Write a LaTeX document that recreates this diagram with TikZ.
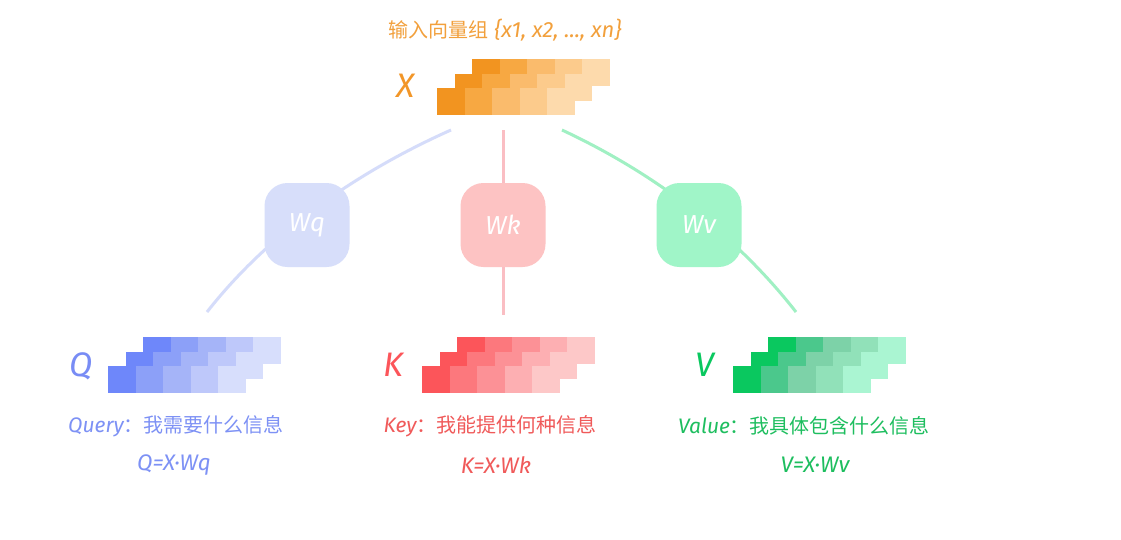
\documentclass[tikz,border=0pt]{standalone}
\usepackage{fontspec}
\setmainfont{Fira Sans}
\newfontfamily\cjk{Noto Sans CJK SC}
\usetikzlibrary{backgrounds}
\definecolor{o1}{RGB}{242,148,32}
\definecolor{o2}{RGB}{247,168,66}
\definecolor{o3}{RGB}{250,187,108}
\definecolor{o4}{RGB}{252,203,140}
\definecolor{o5}{RGB}{253,218,172}
\definecolor{b1}{RGB}{110,135,250}
\definecolor{b2}{RGB}{140,160,248}
\definecolor{b3}{RGB}{165,180,248}
\definecolor{b4}{RGB}{190,200,250}
\definecolor{b5}{RGB}{215,222,252}
\definecolor{r1}{RGB}{252,85,90}
\definecolor{r2}{RGB}{252,120,125}
\definecolor{r3}{RGB}{252,145,150}
\definecolor{r4}{RGB}{253,175,178}
\definecolor{r5}{RGB}{253,200,200}
\definecolor{g1}{RGB}{10,200,95}
\definecolor{g2}{RGB}{75,200,140}
\definecolor{g3}{RGB}{125,210,168}
\definecolor{g4}{RGB}{145,225,185}
\definecolor{g5}{RGB}{170,245,210}
\definecolor{otext}{RGB}{242,160,60}
\definecolor{oletter}{RGB}{242,150,40}
\definecolor{btext}{RGB}{125,145,245}
\definecolor{bletter}{RGB}{120,140,245}
\definecolor{rtext}{RGB}{240,90,90}
\definecolor{gtext}{RGB}{30,190,95}
\definecolor{qline}{RGB}{213,220,250}
\definecolor{kline}{RGB}{250,190,195}
\definecolor{vline}{RGB}{160,240,195}
\definecolor{qfill}{RGB}{215,222,250}
\definecolor{kfill}{RGB}{253,195,195}
\definecolor{vfill}{RGB}{160,245,200}
\newcommand{\qkvmat}[7]{%
  \foreach \i in {0,1,2} {%
    \foreach \c [count=\j from 0] in {#3,#4,#5,#6,#7} {%
      \fill[\c] ({#1-17.5*\i+27.5*\j}, {#2+14.5*\i}) rectangle ++({\j==4 ? 27.5 : 28}, 27);
    }%
  }%
}
\begin{document}
\begin{tikzpicture}[x=1pt,y=-1pt,
  lbl/.style={font=\fontsize{21}{21}\selectfont\itshape, inner sep=0pt},
  form/.style={font=\fontsize{22.5}{22.5}\selectfont\itshape, inner sep=0pt},
  big/.style={font=\fontsize{34}{34}\selectfont\itshape, inner sep=0pt},
  wbox/.style={rounded corners=23pt, minimum width=85pt, minimum height=84pt, inner sep=0pt, text=white, font=\fontsize{26}{26}\selectfont\itshape},
  link/.style={line width=3pt}]
\useasboundingbox (0,0) rectangle (1121,539);

% title
\node[inner sep=0pt, text=otext, font=\fontsize{22}{22}\selectfont\itshape] (title) at (505,30) {{\cjk\fontsize{20}{20}\selectfont 输入向量组} \{x1, x2, ..., xn\}};

% matrices
\qkvmat{472}{59}{o1}{o2}{o3}{o4}{o5}
\qkvmat{143}{337}{b1}{b2}{b3}{b4}{b5}
\qkvmat{457}{337}{r1}{r2}{r3}{r4}{r5}
\qkvmat{768}{337}{g1}{g2}{g3}{g4}{g5}

% letters
\node[big, text=oletter] (X) at (406,86) {X};
\node[big, text=bletter] (Q) at (81,366) {Q};
\node[big, text=r1] (K) at (393,365) {K};
\node[big, text=g1] (V) at (705,365) {V};

% boxes
\node[wbox, fill=qfill] (Wq) at (307,225) {Wq};
\node[wbox, fill=kfill] (Wk) at (503,225) {Wk};
\node[wbox, fill=vfill] (Wv) at (699,225) {Wv};

% connector end points
\coordinate (qtop) at (451,130);
\coordinate (qbot) at (207,312);
\coordinate (ktop) at (503,130);
\coordinate (kbot) at (503,315);
\coordinate (vtop) at (562,130);
\coordinate (vbot) at (796,312);

\begin{scope}[on background layer]
\fill[white] (0,0) rectangle (1121,539);
\draw[link, qline] (qtop) .. controls (358.7,171.1) and (269.2,232.4) .. (qbot);
\draw[link, kline] (ktop) -- (Wk) -- (kbot);
\draw[link, vline] (vtop) .. controls (652.6,172.3) and (734.4,233.2) .. (vbot);
\end{scope}

% labels
\node[lbl, text=btext] (qlabel) at (176,426) {Query{\cjk\fontsize{20}{20}\selectfont ：我需要什么信息}};
\node[form, text=btext] (qform) at (174,465) {Q=X·Wq};
\node[lbl, text=rtext] (klabel) at (490,426) {Key{\cjk\fontsize{20}{20}\selectfont ：我能提供何种信息}};
\node[form, text=rtext] (kform) at (496,465) {K=X·Wk};
\node[lbl, text=gtext] (vlabel) at (804,426) {Value{\cjk\fontsize{20}{20}\selectfont ：我具体包含什么信息}};
\node[form, text=gtext] (vform) at (815,465) {V=X·Wv};
\end{tikzpicture}
\end{document}
